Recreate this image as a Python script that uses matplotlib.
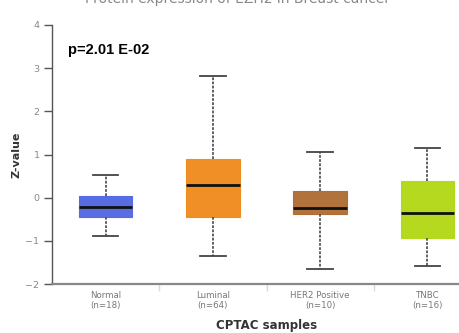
import matplotlib
matplotlib.use("Agg")
import matplotlib.pyplot as plt

# Group labels and box statistics (Z-values)
groups = ["Normal", "Luminal", "HER2 Positive", "TNBC"]
counts = [18, 64, 10, 16]
whisker_low = [-0.88, -1.34, -1.65, -1.58]
quartile_1 = [-0.44, -0.45, -0.38, -0.93]
medians = [-0.21, 0.30, -0.23, -0.36]
quartile_3 = [0.04, 0.89, 0.16, 0.39]
whisker_high = [0.52, 2.82, 1.06, 1.14]
colors = ["#5468e3", "#f08b1f", "#b06d35", "#b3d817"]
p_text = "p=2.01 E-02"

W, H = 459, 333
fig = plt.figure(figsize=(W / 100, H / 100), dpi=100)
fig.patch.set_facecolor("white")

x0, x1 = 52, 481
y_top, y_bot = 25, 284
ax = fig.add_axes([x0 / W, (H - y_bot) / H, (x1 - x0) / W, (y_bot - y_top) / H])

stats = []
for i, g in enumerate(groups):
    stats.append(dict(label=g, whislo=whisker_low[i], q1=quartile_1[i],
                      med=medians[i], q3=quartile_3[i], whishi=whisker_high[i],
                      fliers=[]))

positions = list(range(len(groups)))
bp = ax.bxp(stats, positions=positions, widths=0.5, patch_artist=True,
            showfliers=False,
            medianprops=dict(color="#111111", linewidth=2.0),
            whiskerprops=dict(color="#555555", linewidth=1.3, linestyle=(0, (1.5, 0.8))),
            capprops=dict(color="#444444", linewidth=1.3),
            boxprops=dict(linewidth=0.8))
for patch, c in zip(bp["boxes"], colors):
    patch.set_facecolor(c)
    patch.set_edgecolor(c)
    patch.set_alpha(0.97)
for cap in bp["caps"]:
    xd = cap.get_xdata()
    mid = (xd[0] + xd[1]) / 2
    cap.set_xdata([mid - 0.12, mid + 0.12])

ax.set_xlim(-0.5, len(groups) - 0.5)
ax.set_ylim(-2, 4)

for s in ["top", "right"]:
    ax.spines[s].set_visible(False)
ax.spines["left"].set_color("#555555")
ax.spines["left"].set_linewidth(1.0)
ax.spines["bottom"].set_color("#888888")
ax.spines["bottom"].set_linewidth(1.6)

ax.set_yticks(range(-2, 5))
ax.tick_params(axis="y", length=6, width=1.0, color="#555555",
               labelsize=6.8, labelcolor="#888888", pad=3)

# category boundaries as minor ticks, labels centred under boxes
ax.set_xticks([p + 0.5 for p in positions[:-1]], minor=True)
ax.set_xticks(positions)
ax.set_xticklabels([f"{g}\n(n={n})" for g, n in zip(groups, counts)],
                   fontsize=6.2, color="#777777", linespacing=1.2)
ax.tick_params(axis="x", which="major", length=0, pad=5)
ax.tick_params(axis="x", which="minor", length=5, width=1.0, color="#d5dbe5")

ax.set_ylabel("Z-value", fontsize=8, fontweight="bold", color="#333333")
ax.yaxis.set_label_coords((21 - x0) / (x1 - x0), 0.5)
ax.set_xlabel("CPTAC samples", fontsize=8.5, fontweight="bold", color="#333333", labelpad=6)

fig.text(68 / W, 1 - 50 / H, p_text, fontsize=10.5, fontweight="bold",
         family="Liberation Sans", color="#000000", va="center", ha="left")

fig.text(237 / W, 1 - 3.5 / H, "Protein expression of EZH2 in Breast cancer",
         fontsize=10, color="#888888", ha="center", va="baseline")

fig.savefig("out.png", dpi=100)
